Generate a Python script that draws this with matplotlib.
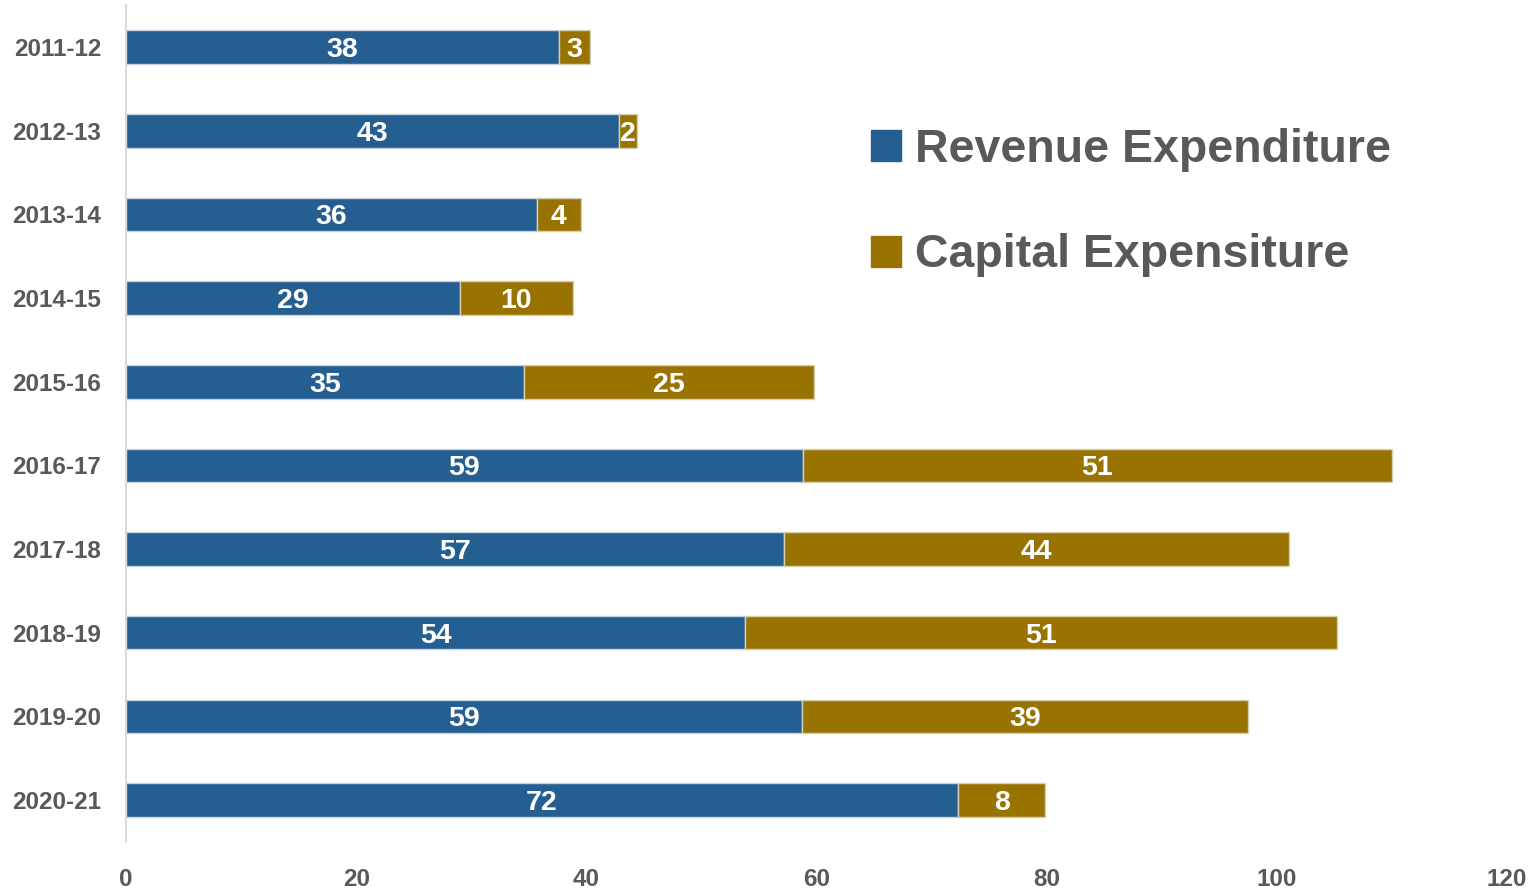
from matplotlib import pyplot as plt
from matplotlib.patches import Patch

years = ["2011-12", "2012-13", "2013-14", "2014-15", "2015-16",
         "2016-17", "2017-18", "2018-19", "2019-20", "2020-21"]
revenue = [37.6, 42.8, 35.7, 29.0, 34.6, 58.8, 57.2, 53.8, 58.7, 72.3]
capital = [2.7, 1.6, 3.8, 9.8, 25.2, 51.2, 43.9, 51.4, 38.8, 7.6]

blue = "#255e91"
gold = "#997300"
grey = "#595959"
font = ["Liberation Sans", "DejaVu Sans"]

fig = plt.figure(figsize=(15.31, 8.89), dpi=100)
ax = fig.add_axes([0.0823, 0.053, 0.902, 0.941])

ypos = list(range(len(years)))
ax.barh(ypos, revenue, height=0.4, color=blue, edgecolor="#c8d2de", linewidth=1)
ax.barh(ypos, capital, left=revenue, height=0.4, color=gold, edgecolor="#d8cfb8", linewidth=1)

for y, r, c in zip(ypos, revenue, capital):
    ax.text(r / 2, y, "{:.0f}".format(r), ha="center", va="center_baseline",
            color="white", fontsize=20.5, fontweight="bold", family=font)
    ax.text(r + c / 2, y, "{:.0f}".format(c), ha="center", va="center_baseline",
            color="white", fontsize=20.5, fontweight="bold", family=font)

ax.set_ylim(9.5, -0.5)
ax.set_xlim(0, 120)
ax.set_yticks(ypos)
ax.set_yticklabels(years)
ax.set_xticks(range(0, 121, 20))
ax.tick_params(length=0, labelcolor=grey, labelsize=17.5)
ax.tick_params(axis="y", pad=18)
ax.tick_params(axis="x", pad=19)
for lbl in ax.get_xticklabels() + ax.get_yticklabels():
    lbl.set_fontweight("bold")
    lbl.set_family(font)

for side in ["top", "right", "bottom"]:
    ax.spines[side].set_visible(False)
ax.spines["left"].set_color("#d9d9d9")
ax.spines["left"].set_linewidth(1.5)

handles = [Patch(color=blue), Patch(color=gold)]
leg = ax.legend(handles, ["Revenue Expenditure", "Capital Expensiture"],
                loc="upper left", bbox_to_anchor=(0.569, 0.856),
                bbox_transform=fig.transFigure, frameon=False,
                prop={"family": font, "weight": "bold", "size": 33.5},
                handlelength=0.65, handleheight=0.65, handletextpad=0.3,
                labelspacing=1.32, borderaxespad=0, borderpad=0)
for t in leg.get_texts():
    t.set_color(grey)

fig.savefig("out.png", dpi=100)
